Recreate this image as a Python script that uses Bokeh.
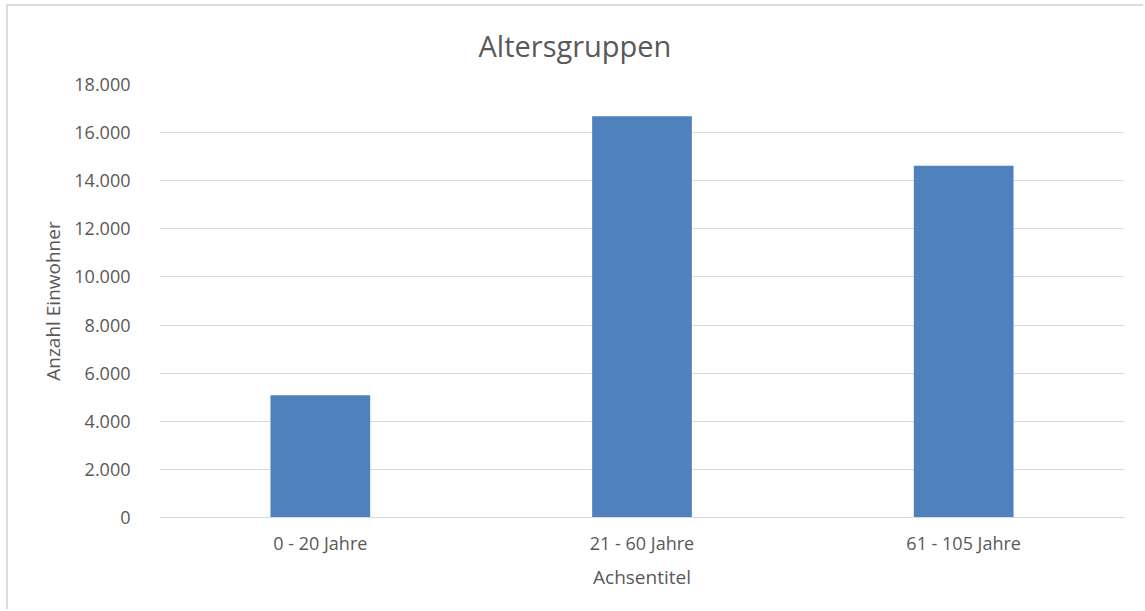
from bokeh.plotting import figure
from bokeh.models import ColumnDataSource, FactorRange, Range1d, SingleIntervalTicker, CustomJSTickFormatter
from bokeh.embed import file_html
from bokeh.resources import INLINE

categories = ["0 - 20 Jahre", "21 - 60 Jahre", "61 - 105 Jahre"]
einwohner = [5080, 16680, 14620]
title_text = "Altersgruppen"
x_label = "Achsentitel"
y_label = "Anzahl Einwohner"

FONT = "Open Sans"
TXT = "#595959"
GRID = "#d9d9d9"

src = ColumnDataSource(dict(cat=categories, val=einwohner))

p = figure(width=1137, height=605, x_range=FactorRange(*categories), y_range=Range1d(0, 18000),
           output_backend="svg", toolbar_location=None,
           min_border_left=151, min_border_right=21, min_border_top=78, min_border_bottom=94)
p.styles = {"border-left": "2px solid #dcdcdc", "border-top": "2px solid #dcdcdc",
            "margin-left": "6px", "margin-top": "4px"}
p.outline_line_color = None
p.background_fill_color = "white"
p.border_fill_color = "white"

p.vbar(x="cat", top="val", width=0.31, source=src, fill_color="#4F81BD", line_color=None)

p.title.text = title_text
p.title.align = "left"
p.title.offset = 319
p.title.standoff = 35
p.title.vertical_align = "top"
p.title.text_font = FONT
p.title.text_font_size = "29px"
p.title.text_font_style = "normal"
p.title.text_color = TXT

p.yaxis.ticker = SingleIntervalTicker(interval=2000)
p.yaxis.formatter = CustomJSTickFormatter(code="return tick.toFixed(0).replace(/\\B(?=(\\d{3})+(?!\\d))/g, '.');")
p.yaxis.axis_line_color = None
p.yaxis.major_tick_line_color = None
p.yaxis.minor_tick_line_color = None
p.yaxis.major_label_standoff = 23
p.yaxis.axis_label = y_label
p.yaxis.axis_label_standoff = 5

p.xaxis.axis_line_color = GRID
p.xaxis.axis_line_width = 1
p.xaxis.major_tick_line_color = None
p.xaxis.minor_tick_line_color = None
p.xaxis.major_label_standoff = 7
p.xaxis.axis_label = x_label
p.xaxis.axis_label_standoff = 6

for ax in (p.xaxis, p.yaxis):
    ax.major_label_text_font = FONT
    ax.major_label_text_font_size = "18px"
    ax.major_label_text_color = TXT
    ax.axis_label_text_font = FONT
    ax.axis_label_text_font_size = "19px"
    ax.axis_label_text_font_style = "normal"
    ax.axis_label_text_color = TXT

p.xgrid.grid_line_color = None
p.ygrid.grid_line_color = GRID
p.ygrid.grid_line_width = 1

open("out.html", "w").write(file_html(p, INLINE))
